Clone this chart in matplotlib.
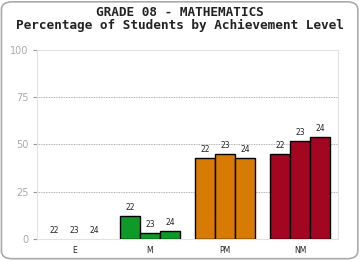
import matplotlib
matplotlib.use("Agg")
import matplotlib.pyplot as plt
from matplotlib.patches import FancyBboxPatch
import numpy as np

categories = ["E", "M", "PM", "NM"]
years = ["22", "23", "24"]
values = {
    "E": [0, 0, 0],
    "M": [12, 3, 4],
    "PM": [43, 45, 43],
    "NM": [45, 52, 54],
}
colors = {"E": "#2a6fb5", "M": "#0f9a28", "PM": "#d77b05", "NM": "#a20621"}
yticks = [0, 25, 50, 75, 100]
title1 = "GRADE 08 - MATHEMATICS"
title2 = "Percentage of Students by Achievement Level"

fig = plt.figure(figsize=(3.6, 2.6), dpi=100)
fig.patch.set_facecolor("white")
border = FancyBboxPatch((0.004, 0.005), 0.99, 0.988, boxstyle="round,pad=0,rounding_size=0.03",
                        transform=fig.transFigure, facecolor="white", edgecolor="#aaaaaa",
                        linewidth=1.2, zorder=-5)
fig.patches.append(border)

ax = fig.add_axes([0.1028, 0.0808, 0.836, 0.727])
ax.set_facecolor("none")
w = 0.8 / 3
x = np.arange(len(categories))
for i, cat in enumerate(categories):
    for j, yr in enumerate(years):
        xpos = i + (j - 1) * w
        v = values[cat][j]
        if v > 0:
            ax.bar(xpos, v, width=w, color=colors[cat], edgecolor="black", linewidth=1.0, zorder=3)
        ax.annotate(yr, (xpos, v), xytext=(0, 3), textcoords="offset points",
                    ha="center", va="bottom", fontsize=5.5, color="#222222", zorder=4)

ax.set_xlim(-0.5, 3.5)
ax.set_ylim(0, 100)
ax.set_xticks(x)
ax.set_xticklabels(categories, fontsize=5.5, color="#222222")
ax.tick_params(axis="x", length=0, pad=5)
ax.set_yticks(yticks)
ax.set_yticklabels([str(t) for t in yticks], fontsize=7, color="#aaaaaa")
ax.tick_params(axis="y", length=3, color="#999999", pad=3)
for yv in [25, 50, 75]:
    ax.axhline(yv, color="#999999", linestyle=(0, (1, 1)), linewidth=0.6, zorder=1)
for s in ax.spines.values():
    s.set_color("#e2e2e2")
    s.set_linewidth(0.8)

fig.text(0.5, 0.95, title1, ha="center", va="center", fontsize=9.2, fontweight="bold",
         family="DejaVu Sans Mono", color="#222222")
fig.text(0.5, 0.903, title2, ha="center", va="center", fontsize=9.2, fontweight="bold",
         family="DejaVu Sans Mono", color="#222222")

fig.savefig("out.png", dpi=100)
